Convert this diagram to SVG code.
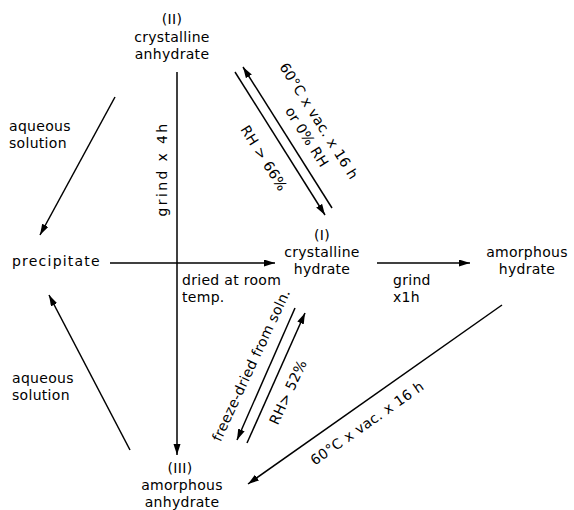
<svg xmlns="http://www.w3.org/2000/svg" width="574" height="510" viewBox="0 0 574 510">
<style>
text{font-family:"DejaVu Sans","Liberation Sans",sans-serif;font-size:14px;letter-spacing:0.3px;fill:#000}
.m{text-anchor:middle}
.c line{stroke:#000;stroke-width:1.5;fill:none}
</style>
<defs>
<marker id="ah" markerUnits="userSpaceOnUse" markerWidth="12" markerHeight="8" refX="11" refY="3.5" orient="auto">
<path d="M0,0 L11,3.5 L0,7 z" fill="#000"/>
</marker>
</defs>
<rect width="574" height="510" fill="#fff"/>
<g class="c" id="connectors">
<line x1="115" y1="97" x2="40" y2="235" marker-end="url(#ah)"/>
<line x1="130" y1="450" x2="49" y2="295" marker-end="url(#ah)"/>
<line x1="177" y1="72" x2="177" y2="455" marker-end="url(#ah)"/>
<line x1="110" y1="263" x2="275" y2="263" marker-end="url(#ah)"/>
<line x1="377" y1="263" x2="470" y2="263" marker-end="url(#ah)"/>
<line x1="235" y1="72" x2="325" y2="215" marker-end="url(#ah)"/>
<line x1="332" y1="208" x2="243" y2="67" marker-end="url(#ah)"/>
<line x1="295" y1="308" x2="237" y2="440" marker-end="url(#ah)"/>
<line x1="247" y1="443" x2="305" y2="313" marker-end="url(#ah)"/>
<line x1="502" y1="305" x2="248" y2="484" marker-end="url(#ah)"/>
</g>
<g id="node-II">
<text class="m" x="172" y="24">(II)</text>
<text class="m" x="172" y="42">crystalline</text>
<text class="m" x="172" y="59">anhydrate</text>
</g>
<g id="node-I">
<text class="m" x="322" y="240">(I)</text>
<text class="m" x="322" y="257">crystalline</text>
<text class="m" x="322" y="274">hydrate</text>
</g>
<g id="node-amorphous-hydrate">
<text class="m" x="527" y="257">amorphous</text>
<text class="m" x="527" y="274">hydrate</text>
</g>
<g id="node-III">
<text class="m" x="180" y="473">(III)</text>
<text class="m" x="182" y="490">amorphous</text>
<text class="m" x="182" y="507">anhydrate</text>
</g>
<g id="node-precipitate">
<text x="12" y="266" textLength="88">precipitate</text>
</g>
<g id="labels">
<text x="9" y="131">aqueous</text>
<text x="9" y="148">solution</text>
<text x="12" y="383">aqueous</text>
<text x="12" y="400">solution</text>
<text x="393" y="285">grind</text>
<text x="393" y="302">x1h</text>
<text x="182" y="285">dried at room</text>
<text x="182" y="302">temp.</text>
<text class="m" transform="translate(167,170) rotate(-90)" textLength="93">grind x 4h</text>
<text class="m" transform="translate(319,121) rotate(57.8)" y="5">60°C x vac. x 16 h</text>
<text class="m" transform="translate(307,137) rotate(57.8)" y="5">or 0% RH</text>
<text class="m" transform="translate(264,158) rotate(57.8)" y="5">RH &gt; 66%</text>
<text class="m" transform="translate(251,365) rotate(-65)" y="5">freeze-dried from soln.</text>
<text class="m" transform="translate(288,392) rotate(-65)" y="5">RH&gt; 52%</text>
<text class="m" transform="translate(367,423) rotate(-35)" y="5">60°C x vac. x 16 h</text>
</g>
</svg>
